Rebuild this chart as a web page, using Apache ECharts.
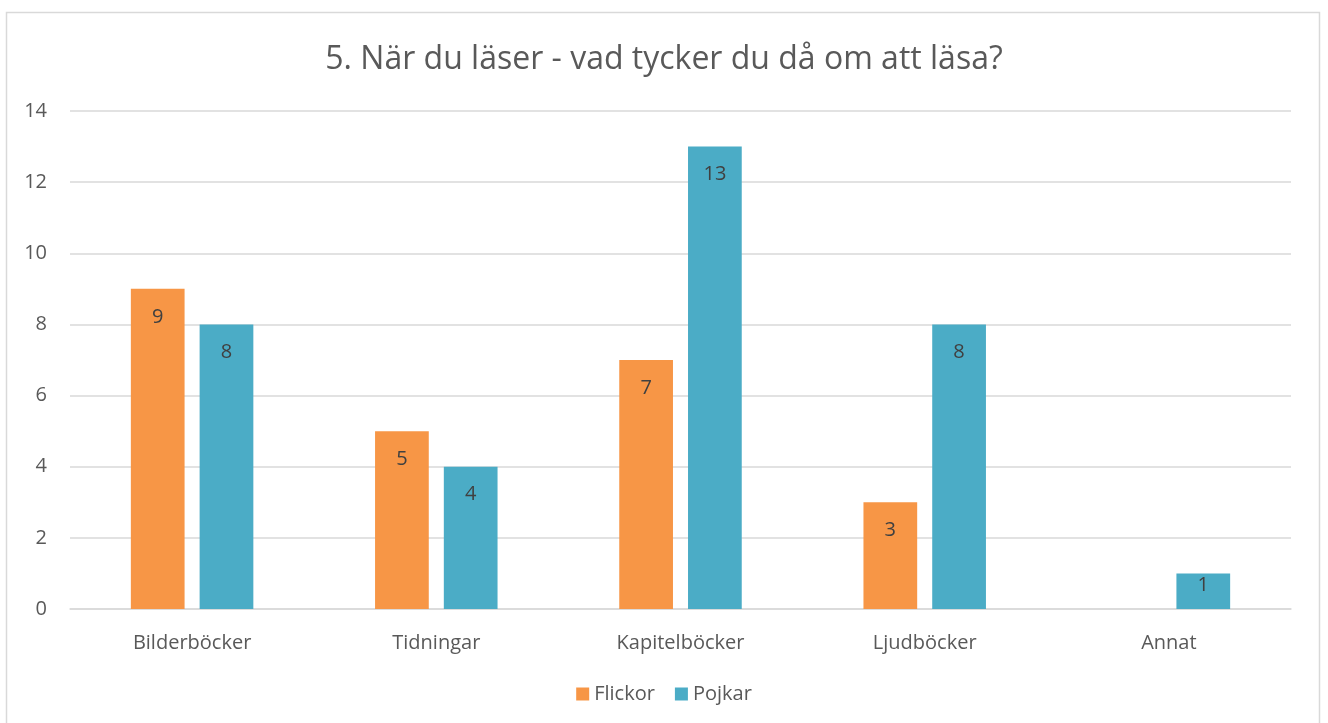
<!DOCTYPE html>
<html style="height: 100%">
   <head>
       <meta charset="utf-8">
   </head>
   <body style="height: 100%; margin: 0; background: #fff">
       <div id="container" style="width: 1328px; height: 723px"></div>
       <script type="text/javascript" src="https://cdn.jsdelivr.net/npm/echarts@6/dist/echarts.min.js"></script>
       <script type="text/javascript">
var categories = ['Bilderböcker', 'Tidningar', 'Kapitelböcker', 'Ljudböcker', 'Annat'];
var flickor = [9, 5, 7, 3, 0];
var pojkar = [8, 4, 13, 8, 1];
var yTicks = [0, 2, 4, 6, 8, 10, 12, 14];

var dom = document.getElementById("container");
var myChart = echarts.init(dom);
var fontName = '"Open Sans", "DejaVu Sans", sans-serif';

// hide labels for empty bars, like the original
function labelOf(p) {
    return p.value ? String(p.value) : '';
}

// short bars get their label pushed up so it still fits inside
function barData(values) {
    return values.map(function (v) {
        if (v > 0 && v < 2) {
            return { value: v, label: { distance: 2 } };
        }
        return v;
    });
}

var option = {
    animation: false,
    textStyle: { fontFamily: fontName },
    title: {
        text: '5. När du läser - vad tycker du då om att läsa?',
        left: 'center',
        top: 39,
        textStyle: { fontSize: 32, fontWeight: 'normal', color: '#595959', fontFamily: fontName }
    },
    legend: {
        data: ['Flickor', 'Pojkar'],
        bottom: 14,
        left: 'center',
        itemWidth: 13,
        itemHeight: 13,
        itemGap: 20,
        itemTextGap: 7,
        icon: 'rect',
        textStyle: { fontSize: 20, color: '#595959', fontFamily: fontName }
    },
    graphic: [{
        type: 'rect',
        shape: { x: 6.5, y: 12.5, width: 1313, height: 730 },
        style: { fill: 'none', stroke: '#d9d9d9', lineWidth: 1.5 },
        silent: true
    }],
    grid: { left: 70, right: 37, top: 111, bottom: 114 },
    xAxis: {
        type: 'category',
        data: categories,
        axisLine: { lineStyle: { color: '#d9d9d9', width: 1.5 } },
        axisTick: { show: false },
        axisLabel: { fontSize: 20, color: '#595959', margin: 24, fontFamily: fontName }
    },
    yAxis: {
        type: 'value',
        min: yTicks[0],
        max: yTicks[yTicks.length - 1],
        interval: 2,
        axisLine: { show: false },
        axisTick: { show: false },
        splitLine: { lineStyle: { color: '#d9d9d9', width: 1.5 } },
        axisLabel: { fontSize: 20, color: '#595959', margin: 23, fontFamily: fontName }
    },
    series: [{
        name: 'Flickor',
        type: 'bar',
        data: barData(flickor),
        barWidth: '22%',
        barGap: '28%',
        itemStyle: { color: '#F79646' },
        label: { show: true, position: 'insideTop', distance: 18, fontSize: 20, color: '#404040', formatter: labelOf }
    }, {
        name: 'Pojkar',
        type: 'bar',
        data: barData(pojkar),
        barWidth: '22%',
        barGap: '28%',
        itemStyle: { color: '#4BACC6' },
        label: { show: true, position: 'insideTop', distance: 18, fontSize: 20, color: '#404040', formatter: labelOf }
    }]
};

myChart.setOption(option);
       </script>
   </body>
</html>
